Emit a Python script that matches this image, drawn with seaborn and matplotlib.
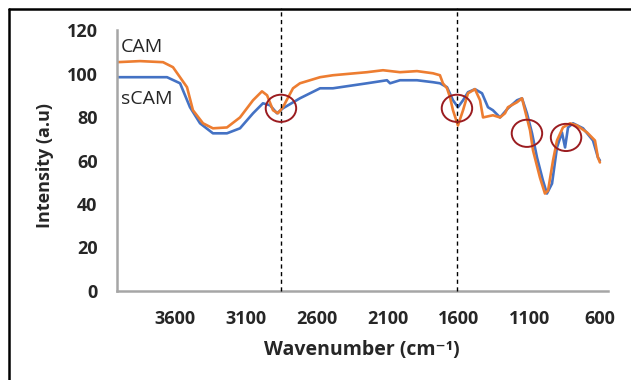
import numpy as np
import pandas as pd
import seaborn as sns
import matplotlib
matplotlib.use('Agg')
from matplotlib import pyplot as plt
from matplotlib.patches import Ellipse
from matplotlib.lines import Line2D


## DADOS

cam_wn = [4010, 3848, 3685, 3615, 3516, 3474, 3403, 3333, 3234, 3142, 3050, 2987, 2951, 2909,
          2874, 2839, 2768, 2719, 2577, 2486, 2246, 2133, 2013, 1893, 1780, 1731, 1710, 1681,
          1660, 1639, 1604, 1568, 1533, 1484, 1448, 1427, 1357, 1307, 1272, 1251, 1187, 1152,
          1131, 1095, 1074, 1025, 990, 968, 933, 905, 863, 813, 764, 693, 637, 616, 602]
cam_int = [105.2, 105.7, 105.2, 102.9, 93.7, 83.1, 77.1, 74.8, 75.2, 79.8, 87.7, 91.8, 90.0, 83.1,
           81.7, 84.5, 93.2, 95.5, 98.3, 99.2, 100.6, 101.5, 100.6, 101.1, 100.1, 99.2, 95.5, 93.2,
           89.1, 83.1, 76.1, 83.1, 90.9, 92.8, 87.7, 79.8, 80.8, 79.8, 81.7, 84.5, 86.8, 88.6,
           83.1, 73.8, 64.6, 52.1, 44.8, 46.2, 60.0, 69.2, 75.2, 77.1, 76.1, 72.9, 69.2, 61.4, 59.1]

scam_wn = [4010, 3657, 3565, 3495, 3424, 3333, 3234, 3142, 3050, 2980, 2930, 2881, 2839, 2719,
           2577, 2486, 2246, 2105, 2083, 2013, 1893, 1780, 1731, 1681, 1639, 1604, 1568, 1533,
           1484, 1434, 1392, 1357, 1307, 1251, 1187, 1152, 1117, 1081, 1046, 1004, 976, 940,
           905, 870, 848, 827, 792, 721, 651, 616, 602]
scam_int = [98.3, 98.3, 95.5, 84.5, 77.1, 72.5, 72.5, 74.8, 81.7, 86.3, 85.4, 81.7, 84.0, 88.6,
            93.2, 93.2, 95.5, 96.9, 95.5, 96.9, 96.9, 96.0, 95.5, 93.7, 87.7, 84.5, 87.7, 91.4,
            92.8, 90.9, 84.5, 83.1, 79.8, 84.0, 87.7, 88.6, 81.7, 72.5, 61.4, 50.8, 44.8, 49.4,
            66.0, 72.9, 66.0, 75.2, 77.1, 74.8, 69.2, 61.4, 60.0]

linhas_tracejadas = [2853, 1611]
circulos_wn = [2853, 1611, 1117, 841]
circulos_int = [84.0, 84.0, 72.5, 70.6]

xticks = [3600, 3100, 2600, 2100, 1600, 1100, 600]
yticks = [0, 20, 40, 60, 80, 100, 120]

laranja = '#ED7D31'
azul = '#4472C4'


## MONTANDO O DATAFRAME

df = pd.concat([
    pd.DataFrame({'wn': scam_wn, 'int': scam_int, 'amostra': 'sCAM'}),
    pd.DataFrame({'wn': cam_wn, 'int': cam_int, 'amostra': 'CAM'}),
])


## GRAFICO

sns.set_style('white')
plt.rcParams['font.family'] = ['Open Sans', 'DejaVu Sans']

fig = plt.figure(figsize=(6.31, 3.8), dpi=100)
ax = fig.add_axes([117 / 631, 1 - 291 / 380, (608 - 117) / 631, (291 - 30) / 380])

sns.lineplot(data=df, x='wn', y='int', hue='amostra', palette={'sCAM': azul, 'CAM': laranja},
             sort=False, estimator=None, linewidth=1.9, legend=False, ax=ax)

for xv in linhas_tracejadas:
    ax.plot([xv, xv], [0, 130], color='black', linestyle=(0, (3, 2.5)), linewidth=1.0,
            clip_on=False, zorder=5)

for cx, cy in zip(circulos_wn, circulos_int):
    ax.add_patch(Ellipse((cx, cy), width=215, height=12.5, fill=False,
                         edgecolor='#9B1C20', linewidth=1.4, zorder=6))

ax.set_xlim(4010, 545)
ax.set_ylim(0, 120)
ax.set_xticks(xticks)
ax.set_yticks(yticks)
ax.tick_params(length=0, labelsize=13, pad=14)
for lb in ax.get_xticklabels() + ax.get_yticklabels():
    lb.set_fontweight('bold')

for lado in ['top', 'right']:
    ax.spines[lado].set_visible(False)
for lado in ['left', 'bottom']:
    ax.spines[lado].set_color('#A6A6A6')
    ax.spines[lado].set_linewidth(1.8)

ax.set_xlabel('')
ax.set_ylabel('')
fig.text(362 / 631, 1 - 350 / 380, 'Wavenumber (cm⁻¹)', ha='center', va='center',
         fontsize=14, fontweight='bold')
fig.text(45 / 631, 1 - 166 / 380, 'Intensity (a.u)', ha='center', va='center',
         rotation=90, fontsize=13, fontweight='bold')

fig.text(121 / 631, 1 - 47 / 380, 'CAM', fontsize=14, va='center', ha='left')
fig.text(121 / 631, 1 - 99 / 380, 'sCAM', fontsize=14, va='center', ha='left')

# moldura
fig.add_artist(Line2D([8.5 / 631, 1], [1 - 9 / 380, 1 - 9 / 380], color='black', linewidth=1.8))
fig.add_artist(Line2D([8.5 / 631, 8.5 / 631], [0, 1 - 9 / 380], color='black', linewidth=1.8))

plt.savefig('out.png', dpi=100)
